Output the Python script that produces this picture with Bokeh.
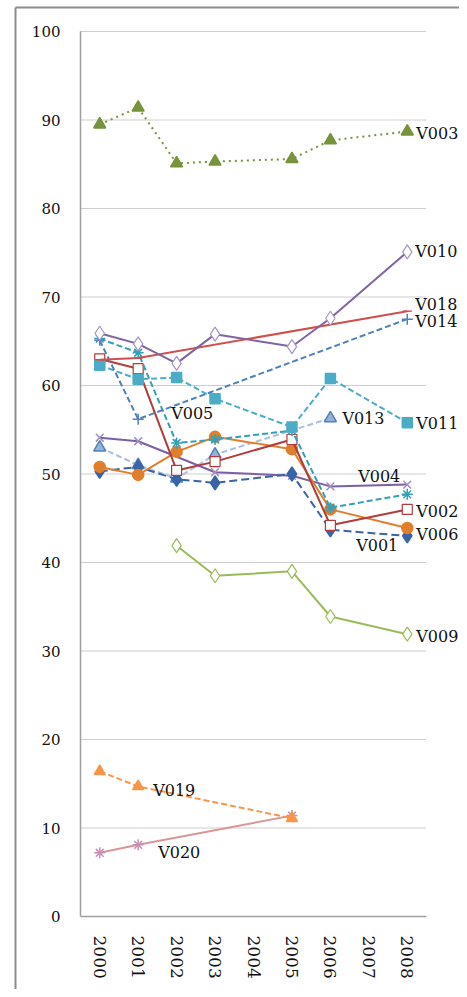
import math
from bokeh.plotting import figure
from bokeh.models import Label, FixedTicker, Range1d
from bokeh.embed import file_html
from bokeh.resources import INLINE

# ---------------- data ----------------
year_ticks = [2000, 2001, 2002, 2003, 2004, 2005, 2006, 2007, 2008]
year_labels = ["2000", "2001", "2002", "2003", "2004", "2005", "2006", "2007", "2008"]
y_ticks = [0, 10, 20, 30, 40, 50, 60, 70, 80, 90, 100]

yrs7 = [2000, 2001, 2002, 2003, 2005, 2006, 2008]

V003_x = yrs7
V003_y = [89.5, 91.4, 85.1, 85.3, 85.6, 87.7, 88.7]
V010_x = yrs7
V010_y = [65.9, 64.7, 62.5, 65.8, 64.4, 67.6, 75.1]
V018_x = [2000, 2001, 2008]
V018_y = [62.9, 63.1, 68.4]
V014_x = [2000, 2001, 2008]
V014_y = [65.1, 56.2, 67.5]
V011_x = yrs7
V011_y = [62.3, 60.7, 60.9, 58.5, 55.3, 60.8, 55.8]
V005_x = yrs7
V005_y = [65.3, 63.7, 53.5, 53.9, 54.9, 46.2, 47.7]
V013_x = [2000, 2001, 2002, 2003, 2006]
V013_y = [53.0, 51.0, 49.5, 52.2, 56.3]
V004_x = [2000, 2001, 2003, 2005, 2006, 2008]
V004_y = [54.1, 53.7, 50.2, 49.8, 48.6, 48.8]
V006_x = yrs7
V006_y = [50.8, 49.9, 52.5, 54.2, 52.8, 46.0, 43.9]
V001_x = yrs7
V001_y = [50.3, 50.8, 49.4, 49.0, 50.0, 43.7, 43.0]
V002_x = yrs7
V002_y = [63.0, 61.9, 50.4, 51.4, 53.9, 44.2, 46.0]
V009_x = [2002, 2003, 2005, 2006, 2008]
V009_y = [41.9, 38.5, 39.0, 33.9, 31.9]
V019_x = [2000, 2001, 2005]
V019_y = [16.4, 14.7, 11.1]
V020_x = [2000, 2001, 2005]
V020_y = [7.2, 8.1, 11.4]

# ---------------- styles ----------------
series = [
    # x, y, line color, dash, marker, marker fill, marker line, marker size
    (V020_x, V020_y, "#D99694", "solid", "asterisk", "#C98FB5", "#C98FB5", 11),
    (V019_x, V019_y, "#F79646", "6 3", "triangle", "#F79646", "#F79646", 11),
    (V009_x, V009_y, "#9BBB59", "solid", "diamond", "white", "#9BBB59", 14),
    (V013_x, V013_y, "#A9C0E0", "6 3", "triangle", "#95B3D7", "#4F81BD", 12),
    (V004_x, V004_y, "#7D5FA3", "solid", "x", None, "#9F8FC8", 11),
    (V001_x, V001_y, "#3A64A8", "8 4", "diamond", "#3A64A8", "#3A64A8", 14),
    (V006_x, V006_y, "#E07E2C", "solid", "circle", "#E07E2C", "#E07E2C", 11),
    (V002_x, V002_y, "#B23B3B", "solid", "square", "white", "#B23B3B", 10),
    (V005_x, V005_y, "#31A0B8", "6 3", "asterisk", "#31A0B8", "#31A0B8", 11),
    (V011_x, V011_y, "#4BACC6", "6 3", "square", "#4BACC6", "#4BACC6", 10),
    (V014_x, V014_y, "#4F81BD", "6 3", "cross", None, "#4F81BD", 11),
    (V018_x, V018_y, "#D0504D", "solid", "dash", None, "#D0504D", 9),
    (V010_x, V010_y, "#8064A2", "solid", "diamond", "white", "#A594C4", 14),
    (V003_x, V003_y, "#77933C", "dotted", "triangle", "#77933C", "#77933C", 12),
]

FONT = "DejaVu Serif"

# ---------------- geometry (pixels in the figure) ----------------
W, H = 459, 989
AX_LEFT, AX_TOP, AX_BOTTOM = 80, 31, 916      # plot area (category block) edges
PX_X = 346 / 9.0                               # pixels per year
PX_Y = (AX_BOTTOM - AX_TOP) / 100.0            # pixels per unit
FRAME_L, FRAME_T = 13, 5                       # frame reaches the outer border


def px2x(px):
    return year_ticks[0] - 0.5 + (px - AX_LEFT) / PX_X


def px2y(py):
    return y_ticks[0] + (AX_BOTTOM - py) / PX_Y


x0 = year_ticks[0] - 0.5
x_last = year_ticks[-1] + 0.5

p = figure(width=W, height=H, output_backend="svg", toolbar_location=None,
           x_range=Range1d(px2x(FRAME_L), px2x(W)),
           y_range=Range1d(px2y(H), px2y(FRAME_T)),
           min_border_left=FRAME_L, min_border_right=0, min_border_top=FRAME_T,
           min_border_bottom=0)
p.outline_line_color = None
p.background_fill_color = "white"
p.border_fill_color = "white"
p.xgrid.grid_line_color = None
p.ygrid.grid_line_color = None

# outer chart border (left and top)
p.line([px2x(15), px2x(15)], [px2y(H + 5), px2y(7)], line_color="#8c8c8c", line_width=2)
p.line([px2x(15), px2x(W + 5)], [px2y(7), px2y(7)], line_color="#8c8c8c", line_width=2)

# dotted horizontal gridlines only across the category area
gl_y = [t for t in y_ticks if t > y_ticks[0]]
p.multi_line([[x0, x_last] for _ in gl_y], [[t, t] for t in gl_y],
             line_color="#9a9a9a", line_dash="1 1", line_width=1)

p.yaxis.ticker = FixedTicker(ticks=y_ticks)
p.yaxis.fixed_location = x0
p.yaxis.bounds = (y_ticks[0], y_ticks[-1])
p.xaxis.ticker = FixedTicker(ticks=year_ticks)
p.xaxis.fixed_location = y_ticks[0]
p.xaxis.bounds = (x0, x_last)
p.xaxis.major_label_overrides = {t: s for t, s in zip(year_ticks, year_labels)}
p.xaxis.major_label_orientation = -math.pi / 2

for ax in (p.xaxis, p.yaxis):
    ax.axis_line_color = "#a0a0a0"
    ax.axis_line_width = 1.5
    ax.major_tick_line_color = None
    ax.minor_tick_line_color = None
    ax.major_tick_out = 0
    ax.major_tick_in = 0
    ax.minor_tick_out = 0
    ax.major_label_text_font = FONT
    ax.major_label_text_color = "#111111"
p.yaxis.major_label_text_font_size = "15px"
p.yaxis.major_label_standoff = 20
p.xaxis.major_label_text_font_size = "17px"
p.xaxis.major_label_standoff = 19

for xs, ys, col, dash, mk, fill, mline, size in series:
    p.line(xs, ys, line_color=col, line_width=2, line_dash=dash)
    p.scatter(xs, ys, marker=mk, size=size, fill_color=fill, line_color=mline,
              line_width=1.5 if fill != "white" else 1.2)

# ---------------- labels ----------------
labels = [
    # text, anchor series x, y, index, dx px, dy px (down +), align
    ("V003", V003_x, V003_y, -1, 9, 2, "left"),
    ("V010", V010_x, V010_y, -1, 8, 0, "left"),
    ("V018", V018_x, V018_y, -1, 8, -7, "left"),
    ("V014", V014_x, V014_y, -1, 8, 2, "left"),
    ("V011", V011_x, V011_y, -1, 9, 1, "left"),
    ("V013", V013_x, V013_y, -1, 12, 0, "left"),
    ("V004", V004_x, V004_y, -1, -7, -8, "right"),
    ("V002", V002_x, V002_y, -1, 9, 2, "left"),
    ("V006", V006_x, V006_y, -1, 9, 7, "left"),
    ("V001", V001_x, V001_y, -1, -9, 10, "right"),
    ("V005", V014_x, V014_y, 1, 33, -6, "left"),
    ("V009", V009_x, V009_y, -1, 9, 2, "left"),
    ("V019", V019_x, V019_y, 1, 15, 4, "left"),
    ("V020", V020_x, V020_y, 1, 20, 8, "left"),
]
for text, xs, ys, i, dx, dy, align in labels:
    p.add_layout(Label(x=xs[i] + dx / PX_X, y=ys[i] - dy / PX_Y, text=text,
                       text_font=FONT, text_font_size="16px", text_color="#111111",
                       text_align=align, text_baseline="middle"))

open("out.html", "w").write(file_html(p, INLINE))
